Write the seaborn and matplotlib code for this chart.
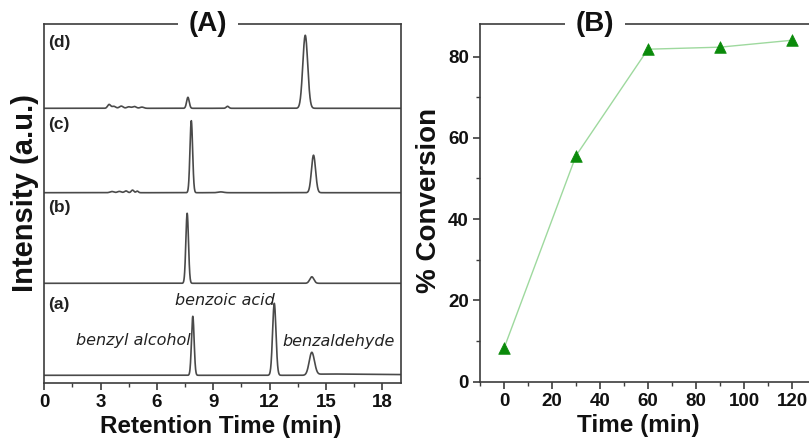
import numpy as np
import pandas as pd
import matplotlib
matplotlib.use("Agg")
import matplotlib.pyplot as plt
from matplotlib.ticker import MultipleLocator
import seaborn as sns

# ---------------- data ----------------
# Panel A: chromatogram peaks (retention time, height, width) for each trace
trace_names = ["(a)", "(b)", "(c)", "(d)"]
trace_offsets = [7.4, 99.4, 190.0, 274.4]
peaks_a_time = [7.91, 12.25, 14.25, 15.6]
peaks_a_height = [59.0, 72.0, 23.0, 1.6]
peaks_a_width = [0.07, 0.09, 0.14, 1.3]
peaks_b_time = [7.61, 14.25]
peaks_b_height = [70.0, 6.5]
peaks_b_width = [0.07, 0.11]
peaks_c_time = [3.6, 4.0, 4.35, 4.7, 4.95, 7.83, 9.4, 14.34]
peaks_c_height = [1.2, 1.3, 1.8, 2.6, 1.6, 72.0, 0.8, 37.5]
peaks_c_width = [0.1, 0.1, 0.08, 0.07, 0.06, 0.07, 0.15, 0.11]
peaks_d_time = [3.45, 3.7, 4.1, 4.5, 4.8, 5.2, 7.65, 9.76, 13.9]
peaks_d_height = [3.8, 2.0, 2.2, 1.5, 1.8, 1.2, 11.0, 2.0, 73.0]
peaks_d_width = [0.08, 0.1, 0.1, 0.1, 0.1, 0.1, 0.07, 0.07, 0.13]
compound_labels = ["benzyl alcohol", "benzoic acid", "benzaldehyde"]

# Panel B: conversion vs time
time_min = [0, 30, 60, 90, 120]
conversion = [8.2, 55.6, 81.8, 82.3, 84.0]

# ---------------- style ----------------
sns.set_style("ticks")
plt.rcParams["font.family"] = ["Liberation Sans", "DejaVu Sans"]
plt.rcParams["font.weight"] = "bold"
plt.rcParams["text.color"] = "#111111"
plt.rcParams["axes.labelcolor"] = "#111111"
plt.rcParams["xtick.labelcolor"] = "#111111"
plt.rcParams["ytick.labelcolor"] = "#111111"
spine_col = "#3c3c3c"

W, H = 809, 438
fig = plt.figure(figsize=(W / 100, H / 100), dpi=100)

def px_axes(l, t, r, b):
    return fig.add_axes([l / W, 1 - b / H, (r - l) / W, (b - t) / H])

axA = px_axes(44.3, 24, 401, 382.7)
axB = px_axes(480, 24, 816, 381.7)

# ---------------- panel A ----------------
x = np.linspace(0, 19, 3000)
peak_sets = [
    (peaks_a_time, peaks_a_height, peaks_a_width),
    (peaks_b_time, peaks_b_height, peaks_b_width),
    (peaks_c_time, peaks_c_height, peaks_c_width),
    (peaks_d_time, peaks_d_height, peaks_d_width),
]
rows = []
for name, off, (pt, ph, pw) in zip(trace_names, trace_offsets, peak_sets):
    y = np.full_like(x, off)
    for mu, h, s in zip(pt, ph, pw):
        if s > 1:  # tailing of the benzaldehyde peak
            y += h * np.where(x > 14.3, np.exp(-(x - 14.3) / 6.0), 0) * (1 - np.exp(-np.clip(x - 14.3, 0, None) / 0.3))
        else:
            y += h * np.exp(-0.5 * ((x - mu) / s) ** 2)
    rows.append(pd.DataFrame({"t": x, "I": y, "trace": name}))
dfA = pd.concat(rows, ignore_index=True)
sns.lineplot(data=dfA, x="t", y="I", units="trace", estimator=None, color="#4a4a4a",
             lw=1.2, ax=axA, legend=False, sort=False)
axA.set_xlim(0, 19)
axA.set_ylim(0, 358.7)
axA.set_yticks([])
axA.xaxis.set_major_locator(MultipleLocator(3))
axA.xaxis.set_minor_locator(MultipleLocator(1.5))
axA.tick_params(axis="x", which="major", direction="out", length=5, width=1.2, color=spine_col,
                labelsize=13.5, pad=3)
axA.tick_params(axis="x", which="minor", direction="out", length=3, width=1.0, color=spine_col)
for lab in axA.get_xticklabels():
    lab.set_fontweight("bold")
axA.set_xlabel("Retention Time (min)", fontsize=17.5, fontweight="bold")
axA.xaxis.set_label_coords(0.5 - (222.6 - 220.8) / 356.7, -(415 - 382.7) / 358.7)
axA.set_ylabel("Intensity (a.u.)", fontsize=21, fontweight="bold")
axA.yaxis.set_label_coords(-0.015, 0.53)
for sp in axA.spines.values():
    sp.set_color(spine_col)
    sp.set_linewidth(1.2)
    sp.set_visible(True)

label_y = [305, 208, 125, 43]
for name, ly in zip(trace_names, label_y):
    axA.text(0.01, 1 - (ly - 24) / 358.7, name, transform=axA.transAxes, fontsize=12.5,
             fontweight="bold", ha="left", va="center", color="#222222")

ann_font = dict(fontsize=11.5, fontstyle="italic", fontweight="normal", color="#222222",
                family=["DejaVu Sans"])
axA.text(7.8, 382.7 - 340, compound_labels[0], ha="right", va="center", **ann_font)
axA.text(9.6, 382.7 - 300.5, compound_labels[1], ha="center", va="center", **ann_font)
axA.text(15.66, 382.7 - 341.5, compound_labels[2], ha="center", va="center", **ann_font)

axA.text((208 - 44.3) / 356.7, 1.0, "(A)", transform=axA.transAxes, ha="center", va="center",
         fontsize=20, fontweight="bold", color="#111111",
         bbox=dict(fc="white", ec="none", pad=8))

# ---------------- panel B ----------------
dfB = pd.DataFrame({"time": time_min, "conv": conversion})
sns.lineplot(data=dfB, x="time", y="conv", ax=axB, color="#9ed99e", lw=1.0, zorder=2)
sns.scatterplot(data=dfB, x="time", y="conv", ax=axB, marker="^", s=70, color="#0a8a0a",
                edgecolor="#0a8a0a", linewidth=0.5, zorder=3)
axB.set_xlim(-10, 130)
axB.set_ylim(0, 88)
axB.xaxis.set_major_locator(MultipleLocator(20))
axB.xaxis.set_minor_locator(MultipleLocator(10))
axB.yaxis.set_major_locator(MultipleLocator(20))
axB.yaxis.set_minor_locator(MultipleLocator(10))
axB.tick_params(which="major", direction="out", length=5, width=1.2, color=spine_col,
                labelsize=13.5, pad=3)
axB.tick_params(which="minor", direction="out", length=3, width=1.0, color=spine_col)
for lab in axB.get_xticklabels() + axB.get_yticklabels():
    lab.set_fontweight("bold")
axB.set_xlabel("Time (min)", fontsize=17.5, fontweight="bold")
axB.xaxis.set_label_coords((638 - 480) / 336, -(414 - 381.7) / 357.7)
axB.set_ylabel("% Conversion", fontsize=20, fontweight="bold")
axB.yaxis.set_label_coords(-0.113, 0.508)
for sp in axB.spines.values():
    sp.set_color(spine_col)
    sp.set_linewidth(1.2)
    sp.set_visible(True)
axB.text((595 - 480) / 336, 1.0, "(B)", transform=axB.transAxes, ha="center", va="center",
         fontsize=20, fontweight="bold", color="#111111",
         bbox=dict(fc="white", ec="none", pad=8))

fig.savefig("out.png", dpi=100)
